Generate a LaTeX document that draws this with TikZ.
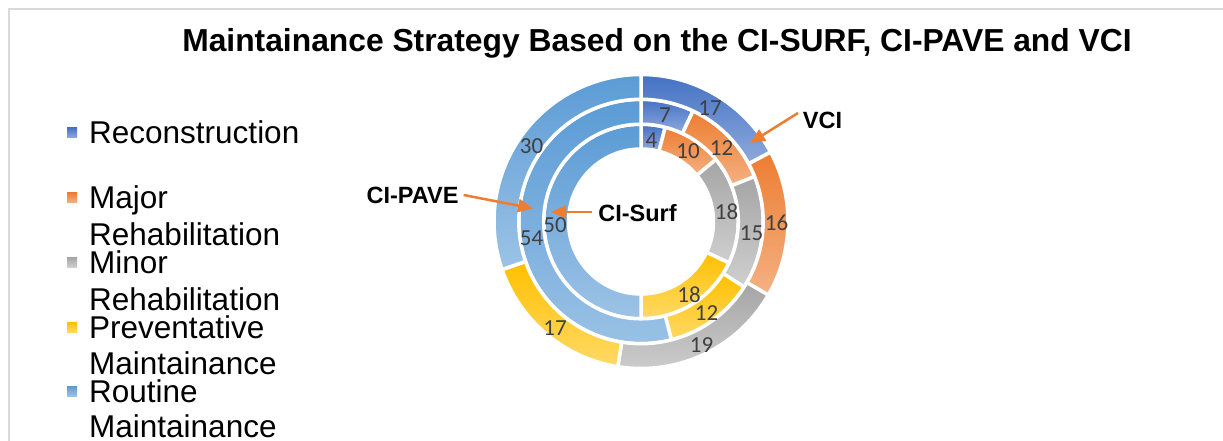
\documentclass[tikz,border=0pt]{standalone}
\usepackage{fontspec}
\setmainfont{Liberation Sans}
\newfontfamily\carl{Carlito}
\usetikzlibrary{arrows.meta}
\definecolor{recT}{HTML}{4472C4}\definecolor{recB}{HTML}{8FAADC}
\definecolor{majT}{HTML}{ED7D31}\definecolor{majB}{HTML}{F4B183}
\definecolor{minT}{HTML}{A5A5A5}\definecolor{minB}{HTML}{CFCFCF}
\definecolor{preT}{HTML}{FFC000}\definecolor{preB}{HTML}{FFD966}
\definecolor{rouT}{HTML}{5B9BD5}\definecolor{rouB}{HTML}{9DC3E6}
\definecolor{lbl}{HTML}{404040}
\definecolor{frame}{HTML}{D9D9D9}
\definecolor{arrowc}{HTML}{ED7D31}
\newcommand\donutseg[5]{%
  \shadedraw[top color=#5T, bottom color=#5B, draw=white, line width=3.5]
  ({90-(#3)}:#1) -- ({90-(#3)}:#2)
  arc[start angle={90-(#3)}, end angle={90-(#4)}, radius=#2]
  -- ({90-(#4)}:#1)
  arc[start angle={90-(#4)}, end angle={90-(#3)}, radius=#1] -- cycle;}
\tikzset{
  titletext/.style={font=\fontsize{31.8}{36}\selectfont\bfseries, inner sep=0},
  legtext/.style={font=\fontsize{31.5}{36}\selectfont, inner sep=0, anchor=base west},
  legmark/.style={minimum size=10, inner sep=0, draw=none},
  datalbl/.style={font=\carl\fontsize{23}{26}\selectfont, text=lbl, inner sep=0},
  annot/.style={font=\fontsize{23.5}{28}\selectfont\bfseries, inner sep=0},
  arr/.style={draw=arrowc, line width=2.5, -{Triangle[length=15, width=13]}}
}
\begin{document}
\begin{tikzpicture}[x=1pt, y=1pt]
\useasboundingbox (0,0) rectangle (1223,-441);
\fill[white] (0,0) rectangle (1223,-441);
\draw[frame, line width=1.5] (9,-441) -- (9,-9) -- (1223,-9);
% title
\node[titletext, anchor=base] (title) at (657,-52) {Maintainance Strategy Based on the CI-SURF, CI-PAVE and VCI};
% donut
\begin{scope}[shift={(641,-221.5)}]
  % inner ring CI-Surf
  \donutseg{72.5}{97.3}{0}{14.4}{rec}
  \donutseg{72.5}{97.3}{14.4}{50.4}{maj}
  \donutseg{72.5}{97.3}{50.4}{115.2}{min}
  \donutseg{72.5}{97.3}{115.2}{180}{pre}
  \donutseg{72.5}{97.3}{180}{360}{rou}
  % middle ring CI-PAVE
  \donutseg{97.3}{122.2}{0}{25.2}{rec}
  \donutseg{97.3}{122.2}{25.2}{68.4}{maj}
  \donutseg{97.3}{122.2}{68.4}{122.4}{min}
  \donutseg{97.3}{122.2}{122.4}{165.6}{pre}
  \donutseg{97.3}{122.2}{165.6}{360}{rou}
  % outer ring VCI
  \donutseg{122.2}{147}{0}{61.82}{rec}
  \donutseg{122.2}{147}{61.82}{120}{maj}
  \donutseg{122.2}{147}{120}{189.09}{min}
  \donutseg{122.2}{147}{189.09}{250.91}{pre}
  \donutseg{122.2}{147}{250.91}{360}{rou}
\end{scope}
% data labels
\node[datalbl] (i1) at (651.5,-140) {4};
\node[datalbl] (i2) at (688,-151) {10};
\node[datalbl] (i3) at (726.5,-211.5) {18};
\node[datalbl] (i4) at (689,-295) {18};
\node[datalbl] (i5) at (555,-225) {50};
\node[datalbl] (m1) at (665,-115.5) {7};
\node[datalbl] (m2) at (721.5,-148) {12};
\node[datalbl] (m3) at (751.5,-233) {15};
\node[datalbl] (m4) at (706.5,-313) {12};
\node[datalbl] (m5) at (531.5,-238) {54};
\node[datalbl] (o1) at (710,-108.5) {17};
\node[datalbl] (o2) at (776.5,-223) {16};
\node[datalbl] (o3) at (701.5,-345) {19};
\node[datalbl] (o4) at (555,-328) {17};
\node[datalbl] (o5) at (531.5,-146) {30};
% annotations
\node[annot] (vci) at (822.5,-120) {VCI};
\node[annot] (pave) at (412.5,-195) {CI-PAVE};
\node[annot] (surf) at (637.5,-213) {CI-Surf};
\coordinate (vcitail) at (798,-113);
\coordinate (vcitip) at (750,-143);
\coordinate (pavetip) at (533,-208.5);
\coordinate (surftip) at (551,-212);
\draw[arr] (vcitail) -- (vcitip);
\draw[arr] ([xshift=5]pave.east) -- (pavetip);
\draw[arr] ([xshift=-6,yshift=1]surf.west) -- (surftip);
% legend
\node[legmark, top color=recT, bottom color=recB] (k1) at (72,-132.7) {};
\node[legmark, top color=majT, bottom color=majB] (k2) at (72,-197.7) {};
\node[legmark, top color=minT, bottom color=minB] (k3) at (72,-262.3) {};
\node[legmark, top color=preT, bottom color=preB] (k4) at (72,-327) {};
\node[legmark, top color=rouT, bottom color=rouB] (k5) at (72,-391.3) {};
\node[legtext] (t1) at (89,-143.3) {Reconstruction};
\node[legtext] (t2a) at (89,-208.3) {Major};
\node[legtext] (t2b) at (89,-245) {Rehabilitation};
\node[legtext] (t3a) at (89,-273) {Minor};
\node[legtext] (t3b) at (89,-310) {Rehabilitation};
\node[legtext] (t4a) at (89,-338) {Preventative};
\node[legtext] (t4b) at (89,-374) {Maintainance};
\node[legtext] (t5a) at (89,-402) {Routine};
\node[legtext] (t5b) at (89,-437) {Maintainance};
\end{tikzpicture}
\end{document}
